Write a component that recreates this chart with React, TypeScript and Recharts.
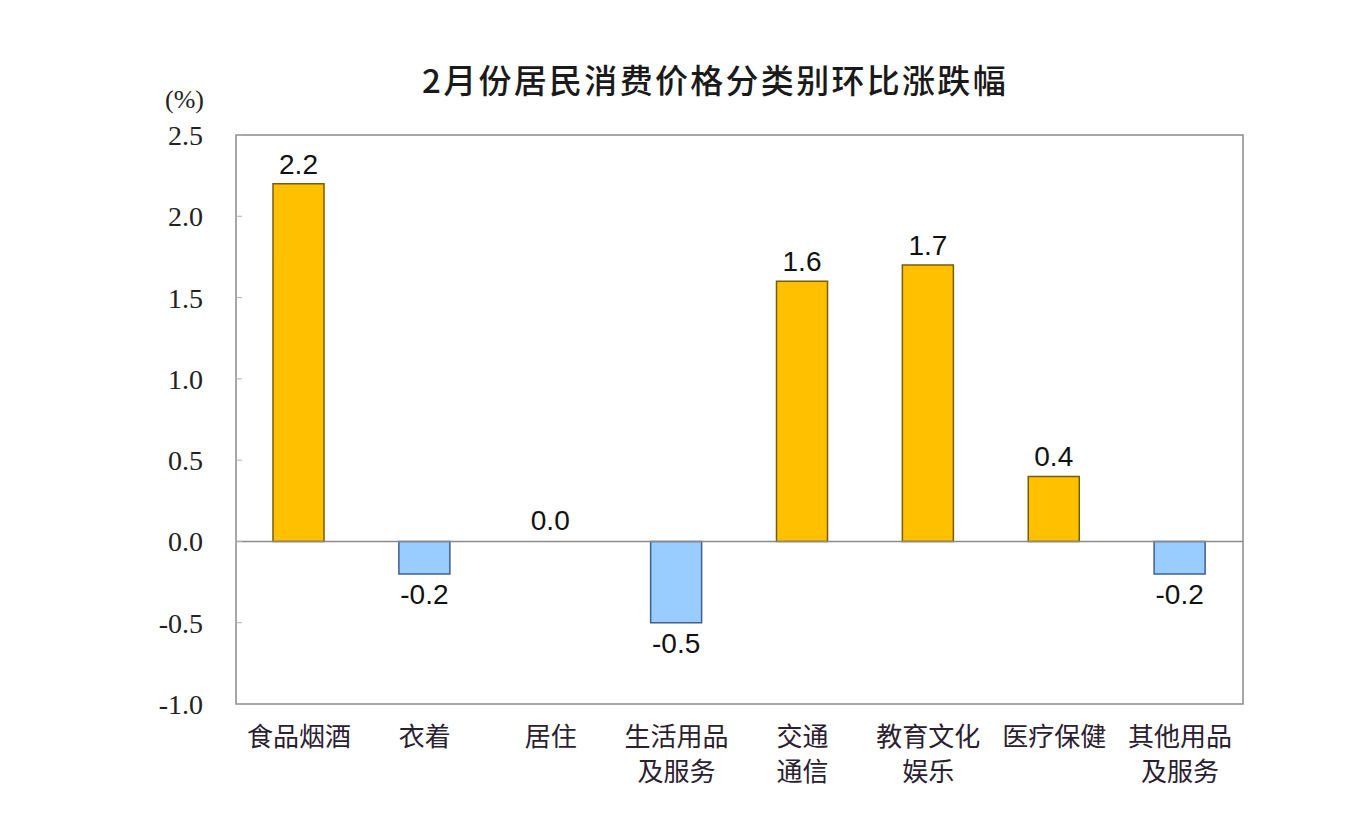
import React from "react";
import {
  BarChart,
  Bar,
  XAxis,
  YAxis,
  Cell,
  LabelList,
  ReferenceLine,
  ReferenceArea,
} from "recharts";

const categories = [
  "食品烟酒",
  "衣着",
  "居住",
  "生活用品\n及服务",
  "交通\n通信",
  "教育文化\n娱乐",
  "医疗保健",
  "其他用品\n及服务",
];
const values = [2.2, -0.2, 0.0, -0.5, 1.6, 1.7, 0.4, -0.2];
const yTicks = [-1.0, -0.5, 0.0, 0.5, 1.0, 1.5, 2.0, 2.5];
const title = "2月份居民消费价格分类别环比涨跌幅";
const unitLabel = "(%)";

const data = categories.map((c, i) => ({ name: c, value: values[i] }));

const POS_FILL = "#FFC000";
const POS_STROKE = "#7A5C00";
const NEG_FILL = "#99CCFF";
const NEG_STROKE = "#3F5F8F";
const CJK = "'Noto Sans CJK SC', 'Noto Sans', sans-serif";

const CategoryTick = (props: any) => {
  const { x, y, payload } = props;
  const lines = String(payload.value).split("\n");
  return (
    <g>
      {lines.map((l: string, i: number) => (
        <text
          key={i}
          x={x}
          y={y + 42 + i * 35}
          textAnchor="middle"
          fontFamily={CJK}
          fontSize={26}
          fill="#2a2030"
        >
          {l}
        </text>
      ))}
    </g>
  );
};

const ValueLabel = (props: any) => {
  const { x, y, width, height, value } = props;
  const v = Number(value);
  const cx = x + width / 2;
  let ty: number;
  if (v >= 0) {
    const top = Math.min(y, y + height);
    ty = top - 10;
  } else {
    const bottom = Math.max(y, y + height);
    ty = bottom + 30;
  }
  return (
    <text
      x={cx}
      y={ty}
      textAnchor="middle"
      fontFamily="'Liberation Sans', Arial, sans-serif"
      fontSize={28}
      fill="#111"
    >
      {v.toFixed(1)}
    </text>
  );
};

export default function App() {
  return (
    <div
      style={{
        position: "absolute",
        left: 0,
        top: 0,
        width: 1364,
        height: 818,
        background: "#ffffff",
      }}
    >
      <div
        style={{
          position: "absolute",
          left: 0,
          width: 1364,
          top: 55,
          textAlign: "center",
          fontFamily: CJK,
          fontSize: 33,
          fontWeight: 500,
          letterSpacing: 2.3,
          color: "#1a1a1a",
          paddingLeft: 66,
          boxSizing: "border-box",
        }}
      >
        {title}
      </div>
      <div
        style={{
          position: "absolute",
          left: 165,
          top: 85,
          fontFamily: "'Liberation Serif', serif",
          fontSize: 26,
          color: "#222",
        }}
      >
        {unitLabel}
      </div>
      <div style={{ position: "absolute", left: 0, top: 0 }}>
        <BarChart
          width={1364}
          height={818}
          data={data}
          margin={{ top: 135, right: 121, left: 0, bottom: 0 }}
          barSize={51}
        >
          <ReferenceArea
            y1={-1}
            y2={2.5}
            fill="none"
            stroke="#8a8a8a"
            strokeWidth={1.5}
            ifOverflow="visible"
          />
          <XAxis
            dataKey="name"
            height={114}
            axisLine={false}
            tickLine={false}
            tickSize={0}
            tickMargin={0}
            interval={0}
            tick={<CategoryTick />}
          />
          <YAxis
            width={236}
            domain={[-1, 2.5]}
            ticks={yTicks}
            allowDataOverflow
            axisLine={false}
            tickLine={{ stroke: "#b0b0b0" }}
            tickSize={-6}
            tickMargin={39}
            tickFormatter={(v: number) => v.toFixed(1)}
            tick={{
              fontFamily: "'Liberation Serif', serif",
              fontSize: 28,
              fill: "#222",
            }}
          />
          <ReferenceLine y={0} stroke="#8a8a8a" strokeWidth={1.5} />
          <Bar
            dataKey="value"
            isAnimationActive={false}
            strokeWidth={1.5}
            minPointSize={1}
          >
            {data.map((d, i) => (
              <Cell
                key={i}
                fill={d.value === 0 ? "none" : d.value > 0 ? POS_FILL : NEG_FILL}
                stroke={
                  d.value === 0 ? "none" : d.value > 0 ? POS_STROKE : NEG_STROKE
                }
              />
            ))}
            <LabelList dataKey="value" content={<ValueLabel />} />
          </Bar>
        </BarChart>
      </div>
    </div>
  );
}
